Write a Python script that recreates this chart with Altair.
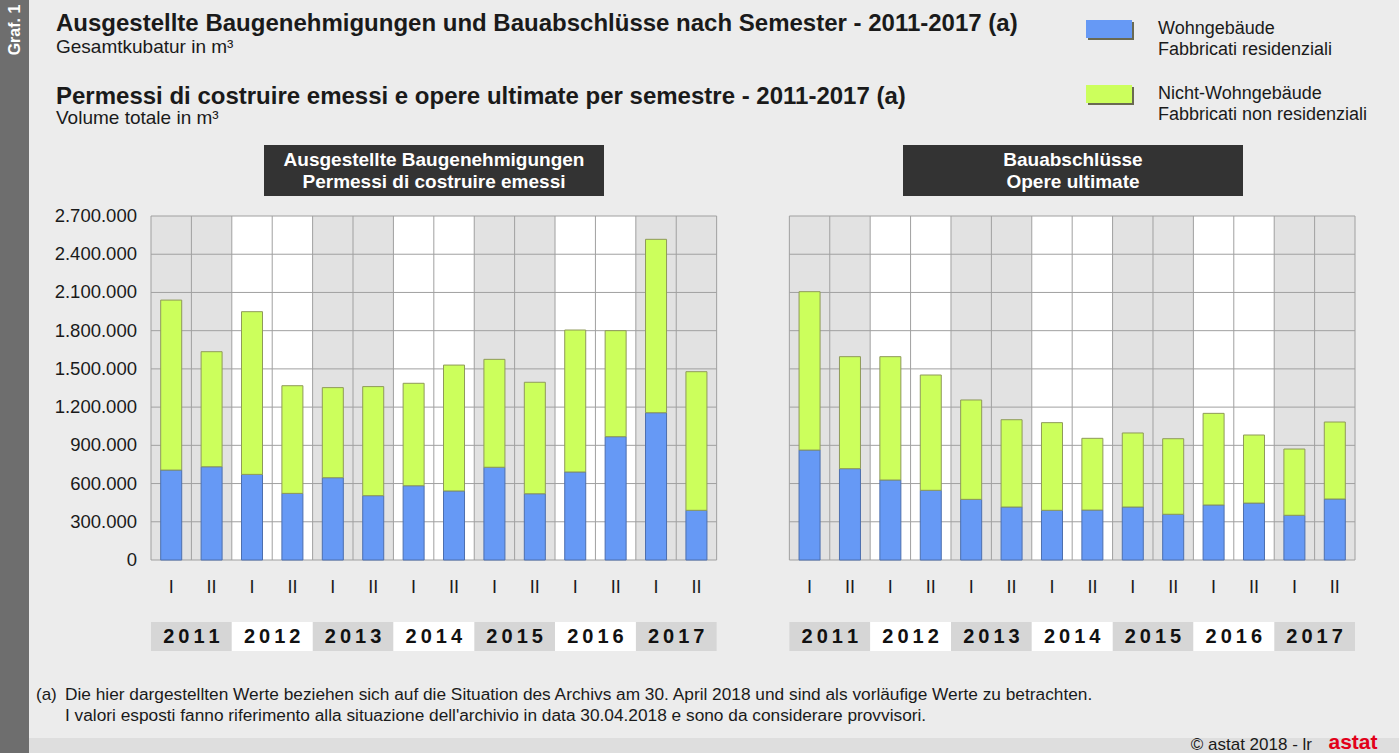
import altair as alt
import pandas as pd

# ---------------- data ----------------
years = [2011, 2012, 2013, 2014, 2015, 2016, 2017]
semesters = ["I", "II"]
y_ticks = [0, 300000, 600000, 900000, 1200000, 1500000, 1800000, 2100000, 2400000, 2700000]
y_tick_labels = ["0", "300.000", "600.000", "900.000", "1.200.000", "1.500.000",
                 "1.800.000", "2.100.000", "2.400.000", "2.700.000"]

permits_res = [706000, 732000, 672000, 523000, 646000, 505000, 583000,
               542000, 728000, 520000, 691000, 968000, 1156000, 390000]
permits_nonres = [1334000, 903000, 1277000, 845000, 707000, 856000, 804000,
                  988000, 847000, 875000, 1114000, 832000, 1361000, 1088000]
compl_res = [863000, 717000, 628000, 547000, 476000, 416000, 390000,
             392000, 416000, 359000, 432000, 447000, 351000, 479000]
compl_nonres = [1243000, 879000, 968000, 905000, 780000, 685000, 688000,
                563000, 581000, 593000, 719000, 534000, 520000, 604000]

panel_titles = [["Ausgestellte Baugenehmigungen", "Permessi di costruire emessi"],
                ["Bauabschlüsse", "Opere ultimate"]]

# ---------------- layout constants ----------------
FONT = "Liberation Sans"
BG = "#ececec"
BLUE = "#6699f5"
GREEN = "#ccff5c"
GRID = "#a0a0a0"
N = 14
YMAX = 2700000
PANEL_OFFSETS = [0.0, 15.8]          # left panel slots 0..14, right panel 15.8..29.8
XSCALE = alt.Scale(domain=[0, 29.8], range=[151, 1355], zero=False, nice=False)
YSCALE = alt.Scale(domain=[0, YMAX], range=[560, 216], zero=False, nice=False)
BARW = 0.26
TS = "\u2009"

# ---------------- build tables ----------------
bar_rows, band_rows, vgrid_rows, hgrid_rows, sem_rows, year_rows = [], [], [], [], [], []
for p, (off, res, nonres) in enumerate(zip(PANEL_OFFSETS,
                                           [permits_res, compl_res],
                                           [permits_nonres, compl_nonres])):
    for i in range(N):
        c = off + i + 0.5
        bar_rows.append({"x0": c - BARW, "x1": c + BARW, "lo": 0, "hi": res[i], "kind": "res"})
        bar_rows.append({"x0": c - BARW, "x1": c + BARW, "lo": res[i],
                         "hi": res[i] + nonres[i], "kind": "nonres"})
        sem_rows.append({"xc": c, "sem": semesters[i % 2]})
    for k, yr in enumerate(years):
        shade = "g" if k % 2 == 0 else "w"
        band_rows.append({"x0": off + 2 * k, "x1": off + 2 * k + 2, "lo": 0, "hi": YMAX,
                          "shade": shade})
        year_rows.append({"x0": off + 2 * k, "x1": off + 2 * k + 2, "xc": off + 2 * k + 1,
                          "yr": TS.join(str(yr)), "shade": shade})
    for i in range(N + 1):
        vgrid_rows.append({"x": off + i, "lo": 0, "hi": YMAX})
    for t in y_ticks:
        hgrid_rows.append({"x0": off, "x1": off + N, "y": t})

bars = pd.DataFrame(bar_rows)
bands = pd.DataFrame(band_rows)
vgrid = pd.DataFrame(vgrid_rows)
hgrid = pd.DataFrame(hgrid_rows)
sems = pd.DataFrame(sem_rows)
yrs = pd.DataFrame(year_rows)
yt = pd.DataFrame({"v": y_ticks, "lab": y_tick_labels})
one = pd.DataFrame({"a": [0]})

def box(x, x2, y, y2, fill):
    return alt.Chart(one).mark_rect(fill=fill).encode(
        x=alt.value(x), x2=alt.value(x2), y=alt.value(y), y2=alt.value(y2))

def label(txt, x, y, size, weight="normal", align="left", color="#1a1a1a", angle=None):
    kw = dict(text=txt, fontSize=size, fontWeight=weight, align=align, color=color,
              baseline="middle", font=FONT)
    if angle is not None:
        kw["angle"] = angle
    return alt.Chart(one).mark_text(**kw).encode(x=alt.value(x), y=alt.value(y))

layers = []
# page decorations
layers.append(box(0, 29, 0, 753, "#6e6e6e"))
layers.append(box(29, 1399, 738, 753, "#dedede"))
layers.append(label("Graf. 1", 15, 30, 16, "bold", "center", "#ffffff", angle=270))

# year bands
layers.append(alt.Chart(bands).mark_rect().encode(
    x=alt.X("x0:Q", scale=XSCALE, axis=None), x2="x1:Q",
    y=alt.Y("lo:Q", scale=YSCALE, axis=None), y2="hi:Q",
    fill=alt.Fill("shade:N", scale=alt.Scale(domain=["g", "w"], range=["#e2e2e2", "#ffffff"]),
                  legend=None)))
# grid
layers.append(alt.Chart(hgrid).mark_rule(color=GRID, strokeWidth=1).encode(
    x=alt.X("x0:Q", scale=XSCALE, axis=None), x2="x1:Q",
    y=alt.Y("y:Q", scale=YSCALE, axis=None)))
layers.append(alt.Chart(vgrid).mark_rule(color=GRID, strokeWidth=1).encode(
    x=alt.X("x:Q", scale=XSCALE, axis=None),
    y=alt.Y("lo:Q", scale=YSCALE, axis=None), y2="hi:Q"))
# bars
layers.append(alt.Chart(bars).mark_rect(strokeWidth=1).encode(
    x=alt.X("x0:Q", scale=XSCALE, axis=None), x2="x1:Q",
    y=alt.Y("lo:Q", scale=YSCALE, axis=None), y2="hi:Q",
    color=alt.Color("kind:N", scale=alt.Scale(domain=["res", "nonres"], range=[BLUE, GREEN]),
                    legend=None),
    stroke=alt.Stroke("kind:N", scale=alt.Scale(domain=["res", "nonres"],
                                                range=["#4d6fae", "#8f9a5a"]), legend=None)))
# y labels
layers.append(alt.Chart(yt).mark_text(align="right", baseline="middle", fontSize=18.5,
                                      font=FONT, color="#1a1a1a").encode(
    x=alt.value(137), y=alt.Y("v:Q", scale=YSCALE, axis=None), text="lab:N"))
# semester labels
layers.append(alt.Chart(sems).mark_text(align="center", baseline="middle", fontSize=18,
                                        font=FONT, color="#1a1a1a").encode(
    x=alt.X("xc:Q", scale=XSCALE, axis=None), y=alt.value(588), text="sem:N"))
# year boxes
layers.append(alt.Chart(yrs).transform_filter(alt.datum.shade == "g").mark_rect(
    color="#d6d6d6").encode(
    x=alt.X("x0:Q", scale=XSCALE, axis=None), x2="x1:Q",
    y=alt.value(622), y2=alt.value(651)))
layers.append(alt.Chart(yrs).transform_filter(alt.datum.shade == "w").mark_rect(
    color="#ffffff").encode(
    x=alt.X("x0:Q", scale=XSCALE, axis=None), x2="x1:Q",
    y=alt.value(622), y2=alt.value(651)))
layers.append(alt.Chart(yrs).mark_text(align="center", baseline="middle", fontSize=20,
                                       fontWeight="bold", font=FONT, color="#111111").encode(
    x=alt.X("xc:Q", scale=XSCALE, axis=None), y=alt.value(637), text="yr:N"))

# panel title boxes
for (cx, lines) in zip([434, 1073], panel_titles):
    layers.append(box(cx - 170, cx + 170, 145, 196, "#333333"))
    layers.append(label(lines[0], cx, 160, 19, "bold", "center", "#ffffff"))
    layers.append(label(lines[1], cx, 182, 19, "bold", "center", "#ffffff"))

# titles
layers.append(label("Ausgestellte Baugenehmigungen und Bauabschlüsse nach Semester - 2011-2017 (a)",
                    56, 24, 24, "bold"))
layers.append(label("Gesamtkubatur in m³", 56, 47, 19))
layers.append(label("Permessi di costruire emessi e opere ultimate per semestre - 2011-2017 (a)",
                    56, 97, 24, "bold"))
layers.append(label("Volume totale in m³", 56, 118, 19))

# legend
for (yy, col, l1, l2) in [(20, BLUE, "Wohngebäude", "Fabbricati residenziali"),
                          (85, GREEN, "Nicht-Wohngebäude", "Fabbricati non residenziali")]:
    layers.append(box(1088, 1134, yy + 2, yy + 20, "#6a6a52"))
    layers.append(box(1086, 1132, yy, yy + 18, col))
    layers.append(label(l1, 1158, yy + 9, 18))
    layers.append(label(l2, 1158, yy + 30, 18))

# footnote
layers.append(label("(a)", 36, 695, 17))
layers.append(label("Die hier dargestellten Werte beziehen sich auf die Situation des Archivs am 30. April 2018 und sind als vorläufige Werte zu betrachten.",
                    65, 695, 17.3))
layers.append(label("I valori esposti fanno riferimento alla situazione dell'archivio in data 30.04.2018 e sono da considerare provvisori.",
                    65, 716, 17.3))
layers.append(label("©  astat 2018 - lr", 1312, 745, 17, align="right"))
layers.append(label("astat", 1353, 743, 21, "bold", "center", "#e2001a"))

chart = alt.layer(*layers).properties(
    width=1399, height=753, padding=0,
    autosize=alt.AutoSizeParams(type="none"),
    background=BG,
).resolve_scale(color="independent", fill="independent", stroke="independent"
                ).configure_view(stroke=None)

chart.save("out.html", embed_options={"renderer": "svg", "actions": False})
